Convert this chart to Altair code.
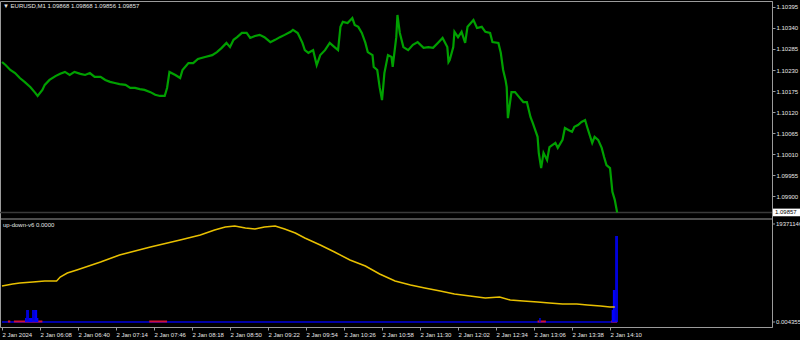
import json
import altair as alt
import pandas as pd

# ---------------- data ----------------
HEADER = "\u25bc EURUSD,M1  1.09868 1.09868 1.09856 1.09857"
SUBTITLE = "up-down-v6 0.0000"

BAR_INDEX = [0, 3, 7, 11, 15, 19, 24, 28, 30, 34, 36, 40, 45, 49, 53, 57, 61, 66, 70, 74,
             78, 83, 87, 91, 95, 99, 104, 108, 112, 116, 120, 125, 129, 133, 137, 139, 141, 146, 150, 152,
             157, 161, 165, 171, 177, 181, 185, 189, 192, 195, 198, 202, 206, 209, 213, 217, 221, 226, 230, 234,
             238, 243, 245, 249, 253, 255, 258, 262, 265, 268, 272, 276, 280, 283, 285, 287, 291, 295, 297, 300,
             303, 306, 308, 312, 313, 316, 318, 320, 321, 322, 325, 328, 329, 332, 333, 335, 338, 342, 346, 350,
             355, 359, 363, 367, 371, 375, 376, 377, 380, 381, 384, 387, 390, 392, 397, 400, 404, 407, 411, 413,
             418, 420, 422, 424, 425, 426, 429, 432, 436, 439, 442, 445, 447, 451, 452, 454, 456, 459, 461, 466,
             468, 472, 474, 477, 480, 482, 485, 488, 491, 493, 497, 499, 502, 505, 507, 509, 512, 513, 514, 516, 518]
CLOSE = [1.10251, 1.10243, 1.10230, 1.10222, 1.10209, 1.10199, 1.10185, 1.10170, 1.10162, 1.10178,
         1.10191, 1.10204, 1.10214, 1.10220, 1.10225, 1.10217, 1.10225, 1.10220, 1.10217, 1.10222,
         1.10212, 1.10212, 1.10204, 1.10199, 1.10196, 1.10193, 1.10191, 1.10183, 1.10183, 1.10180,
         1.10178, 1.10172, 1.10165, 1.10162, 1.10162, 1.10183, 1.10225, 1.10217, 1.10209, 1.10230,
         1.10248, 1.10248, 1.10259, 1.10264, 1.10269, 1.10277, 1.10288, 1.10301, 1.10290, 1.10309,
         1.10316, 1.10327, 1.10327, 1.10314, 1.10319, 1.10322, 1.10316, 1.10303, 1.10309, 1.10316,
         1.10322, 1.10330, 1.10335, 1.10327, 1.10301, 1.10282, 1.10275, 1.10282, 1.10243, 1.10269,
         1.10282, 1.10301, 1.10290, 1.10282, 1.10343, 1.10356, 1.10353, 1.10366, 1.10348, 1.10343,
         1.10327, 1.10301, 1.10277, 1.10269, 1.10238, 1.10230, 1.10185, 1.10151, 1.10185, 1.10222,
         1.10269, 1.10264, 1.10238, 1.10316, 1.10374, 1.10327, 1.10290, 1.10282, 1.10296, 1.10303,
         1.10288, 1.10290, 1.10288, 1.10301, 1.10314, 1.10290, 1.10251, 1.10256, 1.10290, 1.10330,
         1.10316, 1.10330, 1.10301, 1.10343, 1.10361, 1.10340, 1.10343, 1.10330, 1.10327, 1.10303,
         1.10301, 1.10275, 1.10230, 1.10204, 1.10185, 1.10104, 1.10172, 1.10172, 1.10157, 1.10146,
         1.10146, 1.10107, 1.10091, 1.10055, 1.10013, 1.09973, 1.10013, 1.09994, 1.10028, 1.10039,
         1.10026, 1.10047, 1.10078, 1.10073, 1.10068, 1.10081, 1.10086, 1.10094, 1.10099, 1.10078,
         1.10039, 1.10055, 1.10047, 1.10026, 1.10002, 1.09981, 1.09973, 1.09942, 1.09911, 1.09890, 1.09857]

PRICE_TICKS = [1.09900, 1.09955, 1.10010, 1.10065, 1.10120, 1.10175, 1.10230, 1.10285, 1.10340, 1.10395]
BID = [1.09857]

TIME_TICK_INDEX = [0, 32, 64, 96, 128, 160, 192, 224, 256, 288, 320, 352, 384, 416, 448, 480, 512]
TIME_TICK_LABELS = ["2 Jan 2024", "2 Jan 06:08", "2 Jan 06:40", "2 Jan 07:14", "2 Jan 07:46",
                    "2 Jan 08:18", "2 Jan 08:50", "2 Jan 09:22", "2 Jan 09:54", "2 Jan 10:26",
                    "2 Jan 10:58", "2 Jan 11:30", "2 Jan 12:02", "2 Jan 12:34", "2 Jan 13:06",
                    "2 Jan 13:38", "2 Jan 14:10"]

IND_INDEX = [0, 9, 15, 26, 36, 46, 49, 55, 63, 83, 99, 125, 150, 167, 179, 188, 196, 205, 213, 221,
             230, 238, 247, 255, 268, 280, 293, 306, 318, 331, 344, 356, 369, 381, 394, 407, 419, 428,
             439, 451, 461, 472, 484, 493, 504, 512, 516]
IND_VALUE = [71.2e6, 75.1e6, 77.1e6, 79.1e6, 81.0e6, 81.0e6, 88.9e6, 96.9e6, 102.8e6, 118.6e6,
             132.4e6, 148.2e6, 162.1e6, 172.0e6, 181.8e6, 187.8e6, 189.8e6, 185.8e6, 183.8e6, 187.8e6,
             189.8e6, 183.8e6, 175.9e6, 166.0e6, 152.2e6, 138.4e6, 122.5e6, 110.7e6, 94.9e6, 81.0e6,
             73.1e6, 67.2e6, 61.3e6, 55.3e6, 51.4e6, 47.4e6, 49.4e6, 43.5e6, 41.5e6, 39.5e6, 37.6e6,
             35.6e6, 35.6e6, 33.6e6, 31.6e6, 29.6e6, 29.6e6]

BLUE_INDEX = [20, 21, 22, 23, 24, 25, 26, 27, 28, 29, 30, 453, 514, 515, 516, 517, 518]
BLUE_VALUE = [7.9e6, 23.7e6, 23.7e6, 7.9e6, 7.9e6, 7.9e6, 23.7e6, 23.7e6, 23.7e6, 23.7e6, 7.9e6,
              7.9e6, 23.7e6, 63.3e6, 63.3e6, 170.0e6, 170.0e6]

RED_START = [5, 10, 124, 451, 513]
RED_END = [7, 34, 139, 458, 518]

BASE_START = [0]
BASE_END = [518]

LOWER_TICKS = [0.00435553, 193711469]
LOWER_LABELS = ["0.00435553", "193711469"]

# ---------------- styling / layout ----------------
FONT = "Liberation Sans"
TXT = "#e6e6e6"
GRID = "#9b9b9b"
W = 772          # plot width (right axis line at x = 772)
H = 326          # both panes together
TOP_H = 218      # upper pane occupies 0..218, lower pane 218..326
X_DOMAIN = [-1.684, 648.4]
TOP_DOMAIN = [1.098398, 1.104107]
LOW_DOMAIN = [-9.883e6, 203.59e6]

xs = alt.Scale(domain=X_DOMAIN, nice=False, zero=False)
ys_top = alt.Scale(domain=TOP_DOMAIN, nice=False, zero=False, range=[TOP_H, 0])
ys_low = alt.Scale(domain=LOW_DOMAIN, nice=False, zero=False, range=[H, TOP_H])

x_expr = json.dumps(TIME_TICK_LABELS) + "[round(datum.value / 32)]"


def x_axis():
    return alt.Axis(values=TIME_TICK_INDEX, labelExpr=x_expr, grid=False, labelColor=TXT,
                    labelFont=FONT, labelFontSize=6, labelAlign="left", labelPadding=1,
                    tickColor=GRID, tickSize=3, domainColor=GRID, title=None,
                    labelFlush=False, labelOverlap=False, labelBaseline="top")


def top_axis():
    return alt.Axis(orient="right", values=PRICE_TICKS, format=".5f", grid=False,
                    labelColor=TXT, labelFont=FONT, labelFontSize=6, tickColor=GRID,
                    tickSize=3, labelPadding=1, domainColor=GRID, title=None,
                    labelFlush=False, labelOverlap=False)


price_df = pd.DataFrame({"i": BAR_INDEX, "p": CLOSE})
bid_df = pd.DataFrame({"p": BID, "lab": [f"{b:.5f}" for b in BID]})
head_df = pd.DataFrame({"t": [HEADER]})
sub_df = pd.DataFrame({"t": [SUBTITLE]})
sep_df = pd.DataFrame({"v": [LOW_DOMAIN[1]]})
base_df = pd.DataFrame({"a": BASE_START, "b": BASE_END, "v": [0.0]})
red_df = pd.DataFrame({"a": RED_START, "b": RED_END, "v": [1.0e6] * len(RED_START)})
blue_df = pd.DataFrame({"i": BLUE_INDEX, "v": BLUE_VALUE, "z": [0.0] * len(BLUE_INDEX)})
ind_df = pd.DataFrame({"i": IND_INDEX, "v": IND_VALUE})
low_lab_df = pd.DataFrame({"v": LOWER_TICKS, "lab": LOWER_LABELS})

# ---------------- upper pane ----------------
bid_line = alt.Chart(bid_df).mark_rule(color="#3a3a3a", strokeWidth=1.5).encode(
    y=alt.Y("p:Q", scale=ys_top, axis=top_axis())
)
price_line = alt.Chart(price_df).mark_line(color="#00a000", strokeWidth=2.2).encode(
    x=alt.X("i:Q", scale=xs, axis=x_axis()),
    y=alt.Y("p:Q", scale=ys_top, axis=top_axis())
)
bid_box = alt.Chart(bid_df).transform_calculate(
    p1="datum.p + 0.00010", p2="datum.p - 0.00010"
).mark_rect(color="white", clip=False).encode(
    x=alt.value(773), x2=alt.value(800),
    y=alt.Y("p1:Q", scale=ys_top, axis=top_axis()), y2="p2:Q"
)
bid_text = alt.Chart(bid_df).mark_text(align="left", baseline="middle", font=FONT, fontSize=6,
                                       color="black", clip=False).encode(
    x=alt.value(775), y=alt.Y("p:Q", scale=ys_top, axis=top_axis()), text="lab:N"
)
header = alt.Chart(head_df).mark_text(align="left", baseline="middle", font=FONT, fontSize=6,
                                      color=TXT).encode(
    x=alt.value(3), y=alt.value(5), text="t:N"
)

# ---------------- lower pane ----------------
separator = alt.Chart(sep_df).mark_rule(color=GRID, strokeWidth=1).encode(
    y=alt.Y("v:Q", scale=ys_low, axis=None)
)
base_line = alt.Chart(base_df).mark_rule(color="#0000e0", strokeWidth=1.6).encode(
    x=alt.X("a:Q", scale=xs, axis=x_axis()), x2="b:Q",
    y=alt.Y("v:Q", scale=ys_low, axis=None)
)
red_line = alt.Chart(red_df).mark_rule(color="#d0103a", strokeWidth=2).encode(
    x=alt.X("a:Q", scale=xs, axis=x_axis()), x2="b:Q",
    y=alt.Y("v:Q", scale=ys_low, axis=None)
)
blue_bars = alt.Chart(blue_df).mark_rule(color="#0000ff", strokeWidth=1.4).encode(
    x=alt.X("i:Q", scale=xs, axis=x_axis()),
    y=alt.Y("v:Q", scale=ys_low, axis=None), y2="z:Q"
)
ind_line = alt.Chart(ind_df).mark_line(color="#e8c000", strokeWidth=1.5).encode(
    x=alt.X("i:Q", scale=xs, axis=x_axis()),
    y=alt.Y("v:Q", scale=ys_low, axis=None)
)
low_ticks = alt.Chart(low_lab_df).mark_rule(color=GRID, strokeWidth=1, clip=False).encode(
    x=alt.value(W), x2=alt.value(W + 3),
    y=alt.Y("v:Q", scale=ys_low, axis=None)
)
low_labels = alt.Chart(low_lab_df).mark_text(align="left", baseline="middle", font=FONT,
                                             fontSize=6, color=TXT, clip=False).encode(
    x=alt.value(W + 4), y=alt.Y("v:Q", scale=ys_low, axis=None), text="lab:N"
)
sub = alt.Chart(sub_df).mark_text(align="left", baseline="middle", font=FONT, fontSize=6,
                                  color=TXT).encode(
    x=alt.value(3), y=alt.value(TOP_H + 6), text="t:N"
)

upper = alt.layer(bid_line, price_line, bid_box, bid_text, header)
lower = alt.layer(separator, base_line, red_line, blue_bars, ind_line, low_ticks, low_labels, sub)

chart = alt.layer(upper, lower).resolve_scale(y="independent").resolve_axis(y="independent").properties(
    width=W, height=H,
    background="black",
    autosize=alt.AutoSizeParams(type="none"),
    padding={"left": 0, "top": 1, "right": 800 - W, "bottom": 340 - 1 - H},
).configure_view(stroke=GRID, strokeWidth=1)

chart.save("out.html", embed_options={"renderer": "svg", "actions": False})
